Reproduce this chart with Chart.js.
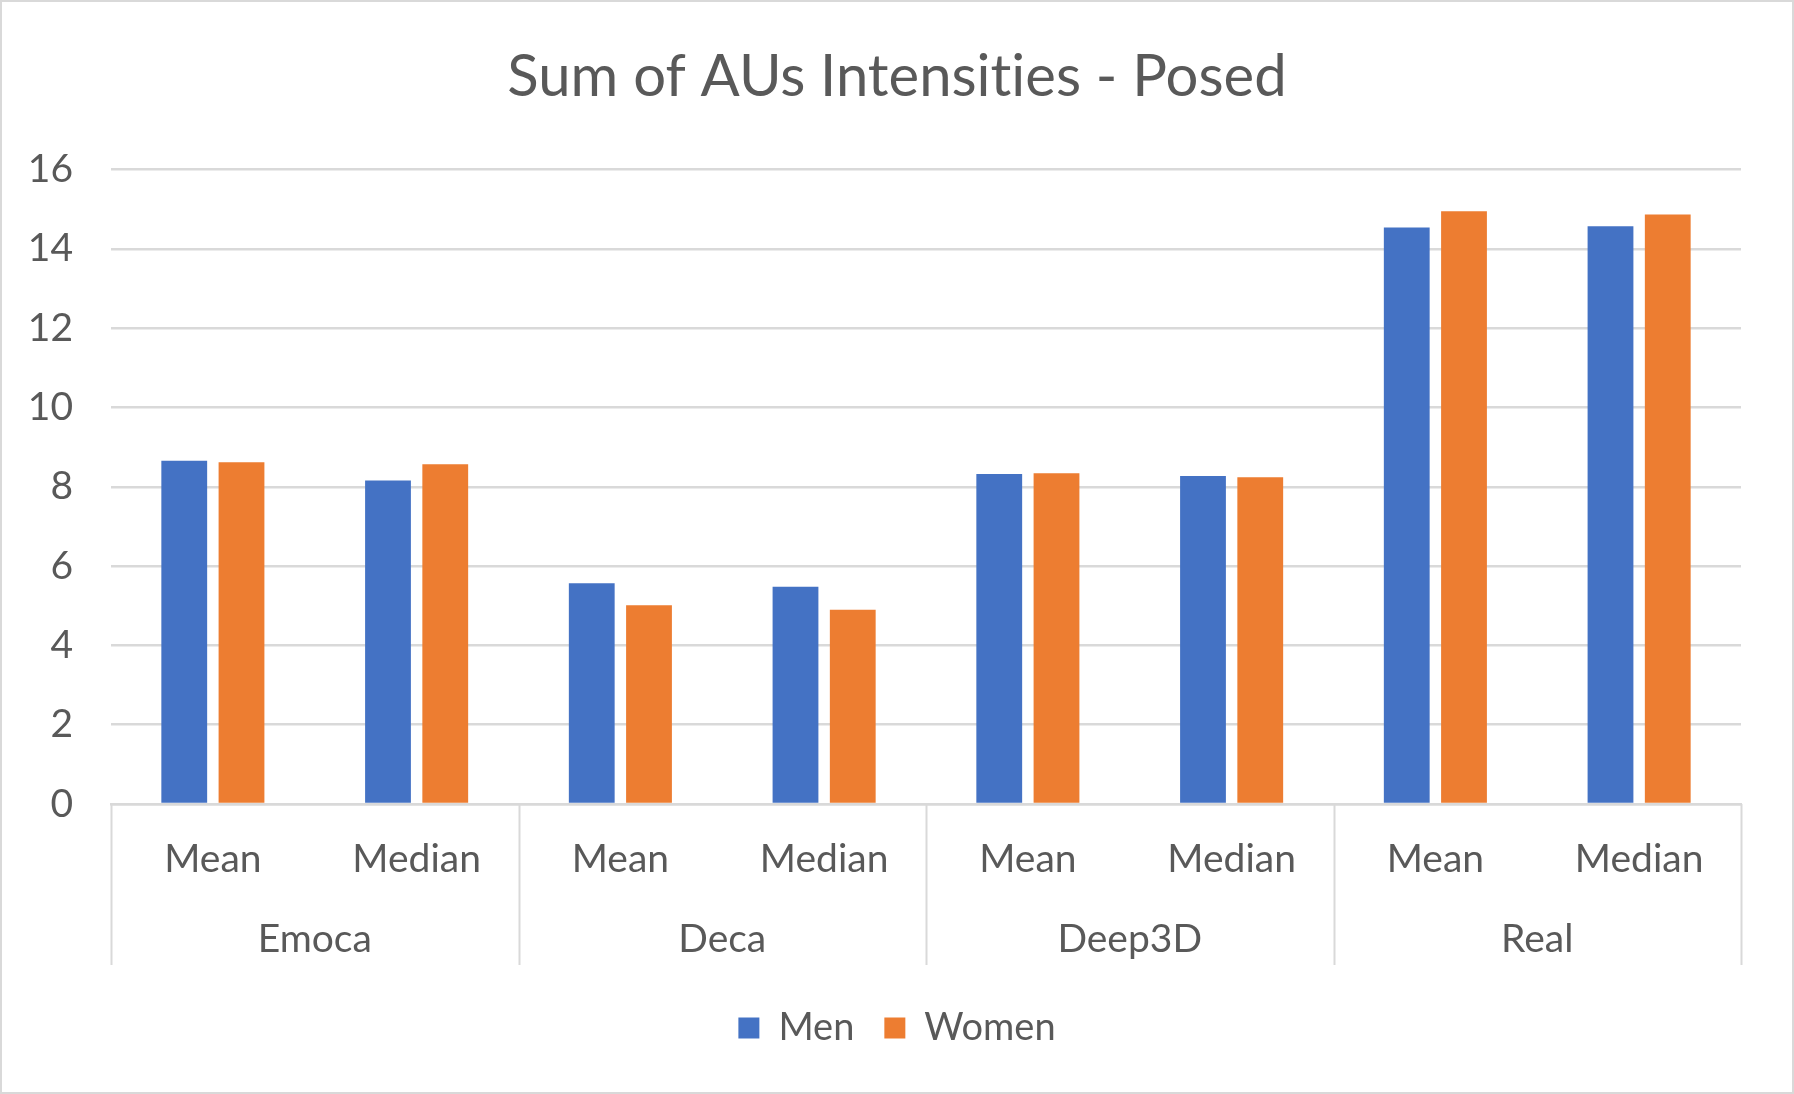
<!DOCTYPE html>
<html>
<head>
<meta charset="utf-8">
<script src="https://cdn.jsdelivr.net/npm/chart.js@4/dist/chart.umd.min.js"></script>
<style>
  html, body { margin: 0; padding: 0; background: #fff; }
  #wrap { width: 1794px; height: 1094px; box-sizing: border-box; border: 2px solid #d9d9d9; }
</style>
</head>
<body>
<div id="wrap"><canvas id="chart" width="1790" height="1090"></canvas></div>
<script>
var groups = ['Emoca', 'Deca', 'Deep3D', 'Real'];
var subLabels = ['Mean', 'Median', 'Mean', 'Median', 'Mean', 'Median', 'Mean', 'Median'];
var menValues = [8.66, 8.16, 5.57, 5.48, 8.32, 8.27, 14.54, 14.57];
var womenValues = [8.62, 8.57, 5.01, 4.90, 8.34, 8.24, 14.95, 14.87];
var yTicks = [0, 2, 4, 6, 8, 10, 12, 14, 16];

var textColor = '#595959';
var gridColor = '#d9d9d9';
var fontFamily = 'Lato, "Open Sans", sans-serif';

// vertical separators between the groups on the category axis
var groupLines = {
  id: 'groupLines',
  afterDraw: function(chart) {
    var x = chart.scales.x, x2 = chart.scales.x2;
    var ctx = chart.ctx;
    var per = subLabels.length / groups.length;
    var half = (x.getPixelForValue(1) - x.getPixelForValue(0)) / 2;
    ctx.save();
    ctx.strokeStyle = gridColor;
    ctx.lineWidth = 2;
    for (var i = 0; i <= groups.length; i++) {
      var px;
      if (i < groups.length) px = x.getPixelForValue(i * per) - half;
      else px = x.getPixelForValue(subLabels.length - 1) + half;
      px = Math.round(px) + 0.5;
      ctx.beginPath();
      ctx.moveTo(px, chart.chartArea.bottom);
      ctx.lineTo(px, x2.bottom - 14);
      ctx.stroke();
    }
    ctx.restore();
  }
};

var ctx = document.getElementById('chart');
new Chart(ctx, {
  type: 'bar',
  data: {
    labels: subLabels,
    datasets: [
      { label: 'Men', data: menValues, backgroundColor: '#4472C4' },
      { label: 'Women', data: womenValues, backgroundColor: '#ED7D31' }
    ]
  },
  options: {
    responsive: false,
    animation: false,
    devicePixelRatio: 1,
    datasets: { bar: { categoryPercentage: 0.562, barPercentage: 0.8 } },
    layout: { padding: { left: 0, right: 0, top: 0, bottom: 35 } },
    plugins: {
      title: {
        display: true,
        // zero-width non-joiner keeps "ti" from turning into a ligature
        text: 'Sum of AUs Intensit\u200Cies - Posed',
        color: textColor,
        font: { family: fontFamily, size: 58, weight: 'normal' },
        padding: { top: 40, bottom: 58 }
      },
      legend: {
        position: 'bottom',
        labels: {
          color: textColor,
          font: { family: fontFamily, size: 38 },
          boxWidth: 21,
          boxHeight: 21,
          padding: 30
        }
      },
      tooltip: { enabled: false }
    },
    scales: {
      y: {
        min: 0,
        max: 16,
        afterBuildTicks: function(scale) {
          scale.ticks = yTicks.map(function(v) { return { value: v }; });
        },
        afterFit: function(scale) { scale.width = 109; },
        grid: { color: gridColor, lineWidth: 2.5, drawTicks: false },
        border: { display: false },
        ticks: { color: textColor, padding: 38, font: { family: fontFamily, size: 39 } }
      },
      // empty right axis, only to leave the right margin
      yRight: {
        position: 'right',
        min: 0,
        max: 16,
        afterFit: function(scale) { scale.width = 51; },
        grid: { display: false },
        border: { display: false },
        ticks: { display: false }
      },
      x: {
        weight: 0,
        afterFit: function(scale) { scale.height = 92; },
        grid: { display: false },
        border: { color: gridColor, width: 2.5 },
        ticks: { color: textColor, padding: 24, font: { family: fontFamily, size: 39 } }
      },
      x2: {
        type: 'category',
        position: 'bottom',
        weight: 1,
        labels: groups,
        offset: true,
        afterFit: function(scale) { scale.height = 83; },
        grid: { display: false },
        border: { display: false },
        ticks: { color: textColor, padding: 12, font: { family: fontFamily, size: 39 } }
      }
    }
  },
  plugins: [groupLines]
});
</script>
</body>
</html>
